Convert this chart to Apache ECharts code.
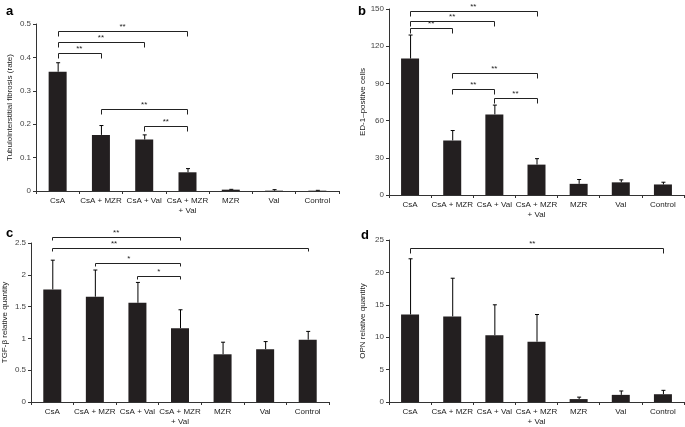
<!DOCTYPE html>
<html><head><meta charset="utf-8">
<script src="https://cdn.jsdelivr.net/npm/echarts@6/dist/echarts.min.js"></script>
<style>html,body{margin:0;padding:0;background:#fff}#c{width:685px;height:427px}</style>
</head><body><div id="c"></div>
<script>
// ---- data ----
const categories = ['CsA','CsA + MZR','CsA + Val','CsA + MZR\n+ Val','MZR','Val','Control'];

const fibrosisMean = [0.357, 0.168, 0.154, 0.056, 0.004, 0.001, 0.001];
const fibrosisSD   = [0.027, 0.028, 0.014, 0.011, 0.001, 0.003, 0.001];
// [from, to, y, label, labelAt(category units, optional)]
const fibrosisBrackets = [[0,3,0.479,'**'],[0,2,0.445,'**'],[0,1,0.412,'**'],[1,3,0.245,'**'],[2,3,0.196,'**']];

const ed1Mean = [110, 44, 65, 24.5, 9, 10.2, 8.5];
const ed1SD   = [19, 8, 7.5, 4.8, 3.5, 2, 1.8];
const ed1Brackets = [[0,3,148.4,'**'],[0,2,140.6,'**'],[0,1,135,'**'],[1,3,98.6,'**'],[1,2,85.2,'**'],[2,3,78.5,'**']];

const tgfMean = [1.77, 1.655, 1.56, 1.16, 0.75, 0.83, 0.98];
const tgfSD   = [0.46, 0.42, 0.32, 0.29, 0.19, 0.12, 0.13];
const tgfBrackets = [[0,3,2.595,'**'],[0,6,2.42,'**',1.45],[1,3,2.18,'*',1.8],[2,3,1.98,'*']];

const opnMean = [13.5, 13.2, 10.3, 9.3, 0.45, 1.1, 1.2];
const opnSD   = [8.6, 5.9, 4.7, 4.2, 0.3, 0.6, 0.6];
const opnBrackets = [[0,6,23.7,'**',2.9]];

const panels = [
  {letter:'a', name:'Tubulointerstitial fibrosis (rate)', mean:fibrosisMean, sd:fibrosisSD, br:fibrosisBrackets, max:0.5, interval:0.1, leg:5},
  {letter:'b', name:'ED-1\u2013positive cells', mean:ed1Mean, sd:ed1SD, br:ed1Brackets, max:150, interval:30, leg:5},
  {letter:'c', name:'TGF-\u03b2 relative quantity', mean:tgfMean, sd:tgfSD, br:tgfBrackets, max:2.5, interval:0.5, leg:3},
  {letter:'d', name:'OPN relative quantity', mean:opnMean, sd:opnSD, br:opnBrackets, max:25, interval:5, leg:5}
];

// ---- layout ----
const grids = [
  {left:36, top:24, width:303, height:167},
  {left:389, top:9, width:295, height:186},
  {left:31, top:243, width:298, height:159},
  {left:389, top:240, width:295, height:164}
];
const letterPos = [[1,0],[353,0],[1,222],[356,224]];
const FONT = "'Liberation Sans', Arial, sans-serif";
const INK = '#231f20';

const option = {
  animation:false,
  backgroundColor:'#fff',
  textStyle:{fontFamily:FONT},
  grid: grids.map(g=>Object.assign({containLabel:false}, g)),
  title: panels.map((p,i)=>({text:p.letter, left:letterPos[i][0], top:letterPos[i][1],
    textStyle:{fontFamily:FONT, fontSize:13, fontWeight:'bold', color:'#000'}})),
  xAxis: panels.map((p,i)=>({type:'category', gridIndex:i, data:categories,
    axisLine:{lineStyle:{color:'#333', width:1}},
    axisTick:{show:true, length:3, lineStyle:{color:'#333'}},
    axisLabel:{fontSize:8, color:'#222', fontFamily:FONT, margin:5, interval:0, lineHeight:10}})),
  yAxis: panels.map((p,i)=>({type:'value', gridIndex:i, min:0, max:p.max, interval:p.interval,
    name:p.name, nameLocation:'middle', nameGap:22,
    nameTextStyle:{fontSize:8, color:'#222', fontFamily:FONT},
    splitLine:{show:false},
    axisLine:{show:true, lineStyle:{color:'#333', width:1}},
    axisTick:{show:true, length:3, lineStyle:{color:'#333'}},
    axisLabel:{fontSize:8, color:'#444', fontFamily:FONT, margin:5}})),
  series: []
};

panels.forEach((p,i)=>{
  option.series.push({type:'bar', xAxisIndex:i, yAxisIndex:i, data:p.mean, barWidth:18,
    itemStyle:{color:INK}, silent:true});
  option.series.push({type:'custom', xAxisIndex:i, yAxisIndex:i, clip:false, silent:true,
    data:p.mean.map((m,k)=>[k, m, m+p.sd[k]]),
    renderItem:(params, api)=>{
      const b = api.coord([api.value(0), api.value(1)]);
      const t = api.coord([api.value(0), api.value(2)]);
      return {type:'group', children:[
        {type:'line', shape:{x1:b[0]+0.5, y1:b[1], x2:b[0]+0.5, y2:t[1]}, style:{stroke:'#000', lineWidth:1}},
        {type:'line', shape:{x1:b[0]-1.5, y1:t[1], x2:b[0]+2.5, y2:t[1]}, style:{stroke:'#000', lineWidth:1}}
      ]};
    }});
  option.series.push({type:'custom', xAxisIndex:i, yAxisIndex:i, clip:false, silent:true,
    data:p.br.map(r=>[r[0], r[1], r[2], r.length>4 ? r[4] : (r[0]+r[1])/2]),
    renderItem:(params, api)=>{
      const a = api.coord([api.value(0), api.value(2)]);
      const c = api.coord([api.value(1), api.value(2)]);
      const c0 = api.coord([0, api.value(2)]);
      const c1 = api.coord([1, api.value(2)]);
      const lx = c0[0] + (c1[0]-c0[0]) * api.value(3);
      const y = Math.round(a[1])+0.5;
      const x1 = Math.round(a[0])+0.5, x2 = Math.round(c[0])+0.5;
      const lab = p.br[params.dataIndex][3];
      return {type:'group', children:[
        {type:'polyline', shape:{points:[[x1,y+p.leg],[x1,y],[x2,y],[x2,y+p.leg]]}, style:{stroke:'#222', lineWidth:1, fill:null}},
        {type:'text', style:{text:lab, x:lx, y:y-1, textAlign:'center', textVerticalAlign:'bottom',
          font:'8px '+FONT, fill:'#222'}}
      ]};
    }});
});

const chart = echarts.init(document.getElementById('c'), null, {renderer:'canvas'});
chart.setOption(option);
</script>
</body></html>
